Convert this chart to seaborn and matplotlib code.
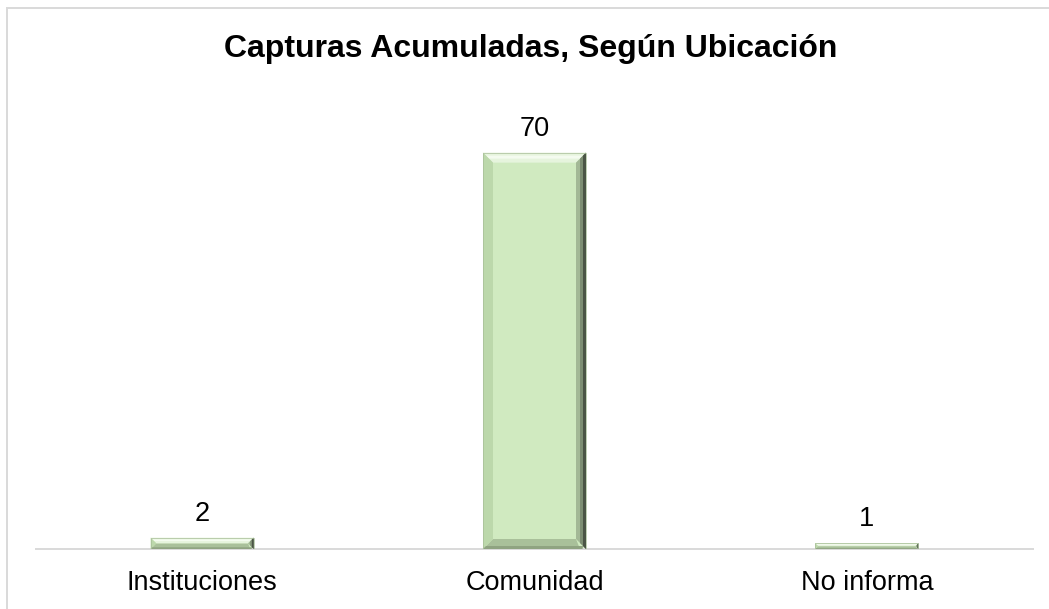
import matplotlib
matplotlib.use("Agg")
import matplotlib.pyplot as plt
import seaborn as sns
import pandas as pd
from matplotlib.patches import Polygon, Rectangle

categories = ["Instituciones", "Comunidad", "No informa"]
values = [2, 70, 1]
title = "Capturas Acumuladas, Según Ubicación"

sns.set_theme(style="white")
plt.rcParams['font.family'] = ['Liberation Sans', 'DejaVu Sans']

W, H = 1049, 609
fig = plt.figure(figsize=(W / 100, H / 100), dpi=100)
ax = fig.add_axes([36 / W, 60 / H, 997 / W, 453 / H])

df = pd.DataFrame({"cat": categories, "val": values})
main_color = "#d0eac0"
sns.barplot(data=df, x="cat", y="val", color=main_color, saturation=1,
            width=0.31, ax=ax, edgecolor="none", linewidth=0)

ax.set_ylim(0, 80)
ax.set_xlim(-0.5, 2.5)
ax.set_xlabel("")
ax.set_ylabel("")
ax.set_yticks([])
for s in ["top", "right", "left"]:
    ax.spines[s].set_visible(False)
ax.spines["bottom"].set_color("#d9d9d9")
ax.spines["bottom"].set_linewidth(1.4)
ax.tick_params(axis="x", length=0, pad=15, labelsize=19.5, labelcolor="black")

# bevel decoration derived from the bar patches
fig.canvas.draw()
to_data = ax.transData.inverted()
px_x = abs(to_data.transform((1, 0))[0] - to_data.transform((0, 0))[0])
px_y = abs(to_data.transform((0, 1))[1] - to_data.transform((0, 0))[1])
for p in list(ax.patches):
    x0, y0 = p.get_x(), p.get_y()
    w, h = p.get_width(), p.get_height()
    x1, y1 = x0 + w, y0 + h
    hpx = h / px_y
    b = min(10, hpx / 2.0)
    bx, by = b * px_x, b * px_y
    # top highlight
    ax.add_patch(Polygon([(x0, y1), (x1, y1), (x1 - bx, y1 - by), (x0 + bx, y1 - by)],
                         closed=True, facecolor="#e6f4dd", edgecolor="none", zorder=3))
    ax.add_patch(Polygon([(x0 + bx * 0.3, y1 - by * 0.3), (x1 - bx * 0.3, y1 - by * 0.3),
                          (x1 - bx * 0.6, y1 - by * 0.6), (x0 + bx * 0.6, y1 - by * 0.6)],
                         closed=True, facecolor="#f4fbef", edgecolor="none", zorder=3))
    # left
    ax.add_patch(Polygon([(x0, y0), (x0, y1), (x0 + bx, y1 - by), (x0 + bx, y0 + by)],
                         closed=True, facecolor="#bcd8ab", edgecolor="none", zorder=3))
    # right (dark)
    ax.add_patch(Polygon([(x1, y0), (x1, y1), (x1 - bx, y1 - by), (x1 - bx, y0 + by)],
                         closed=True, facecolor="#a3b896", edgecolor="none", zorder=3))
    ax.add_patch(Polygon([(x1, y0), (x1, y1), (x1 - bx * 0.6, y1 - by * 0.6), (x1 - bx * 0.6, y0 + by * 0.6)],
                         closed=True, facecolor="#7d8e73", edgecolor="none", zorder=3))
    ax.add_patch(Polygon([(x1, y0), (x1, y1), (x1 - bx * 0.3, y1 - by * 0.3), (x1 - bx * 0.3, y0 + by * 0.3)],
                         closed=True, facecolor="#4b5546", edgecolor="none", zorder=3))
    # bottom
    ax.add_patch(Polygon([(x0 + bx * 0.0, y0), (x1 - bx * 0.6, y0), (x1 - bx, y0 + by), (x0 + bx, y0 + by)],
                         closed=True, facecolor="#a9c09a", edgecolor="none", zorder=2.9))
    ax.add_patch(Polygon([(x0 + bx * 0.3, y0 + by * 0.3), (x1 - bx * 0.3, y0 + by * 0.3),
                          (x1 - bx * 0.35, y0), (x0, y0)],
                         closed=True, facecolor="#8fa381", edgecolor="none", zorder=3.1))
    # thin outline
    ax.add_patch(Rectangle((x0, y0), w, h, facecolor="none", edgecolor="#a7bd98",
                           linewidth=0.5, zorder=4))

ax.bar_label(ax.containers[0], labels=[str(v) for v in values], padding=8,
             fontsize=19.5, color="black")

fig.text(531 / W, 1 - 57 / H, title, ha="center", va="baseline",
         fontsize=23, fontweight="bold", color="black")

# chart border
fig.patches.append(Rectangle((6.5 / W, -0.05), 1.2, 1 - 7.5 / H + 0.05,
                             transform=fig.transFigure, facecolor="none",
                             edgecolor="#d9d9d9", linewidth=1.4))

fig.savefig("out.png", dpi=100)
